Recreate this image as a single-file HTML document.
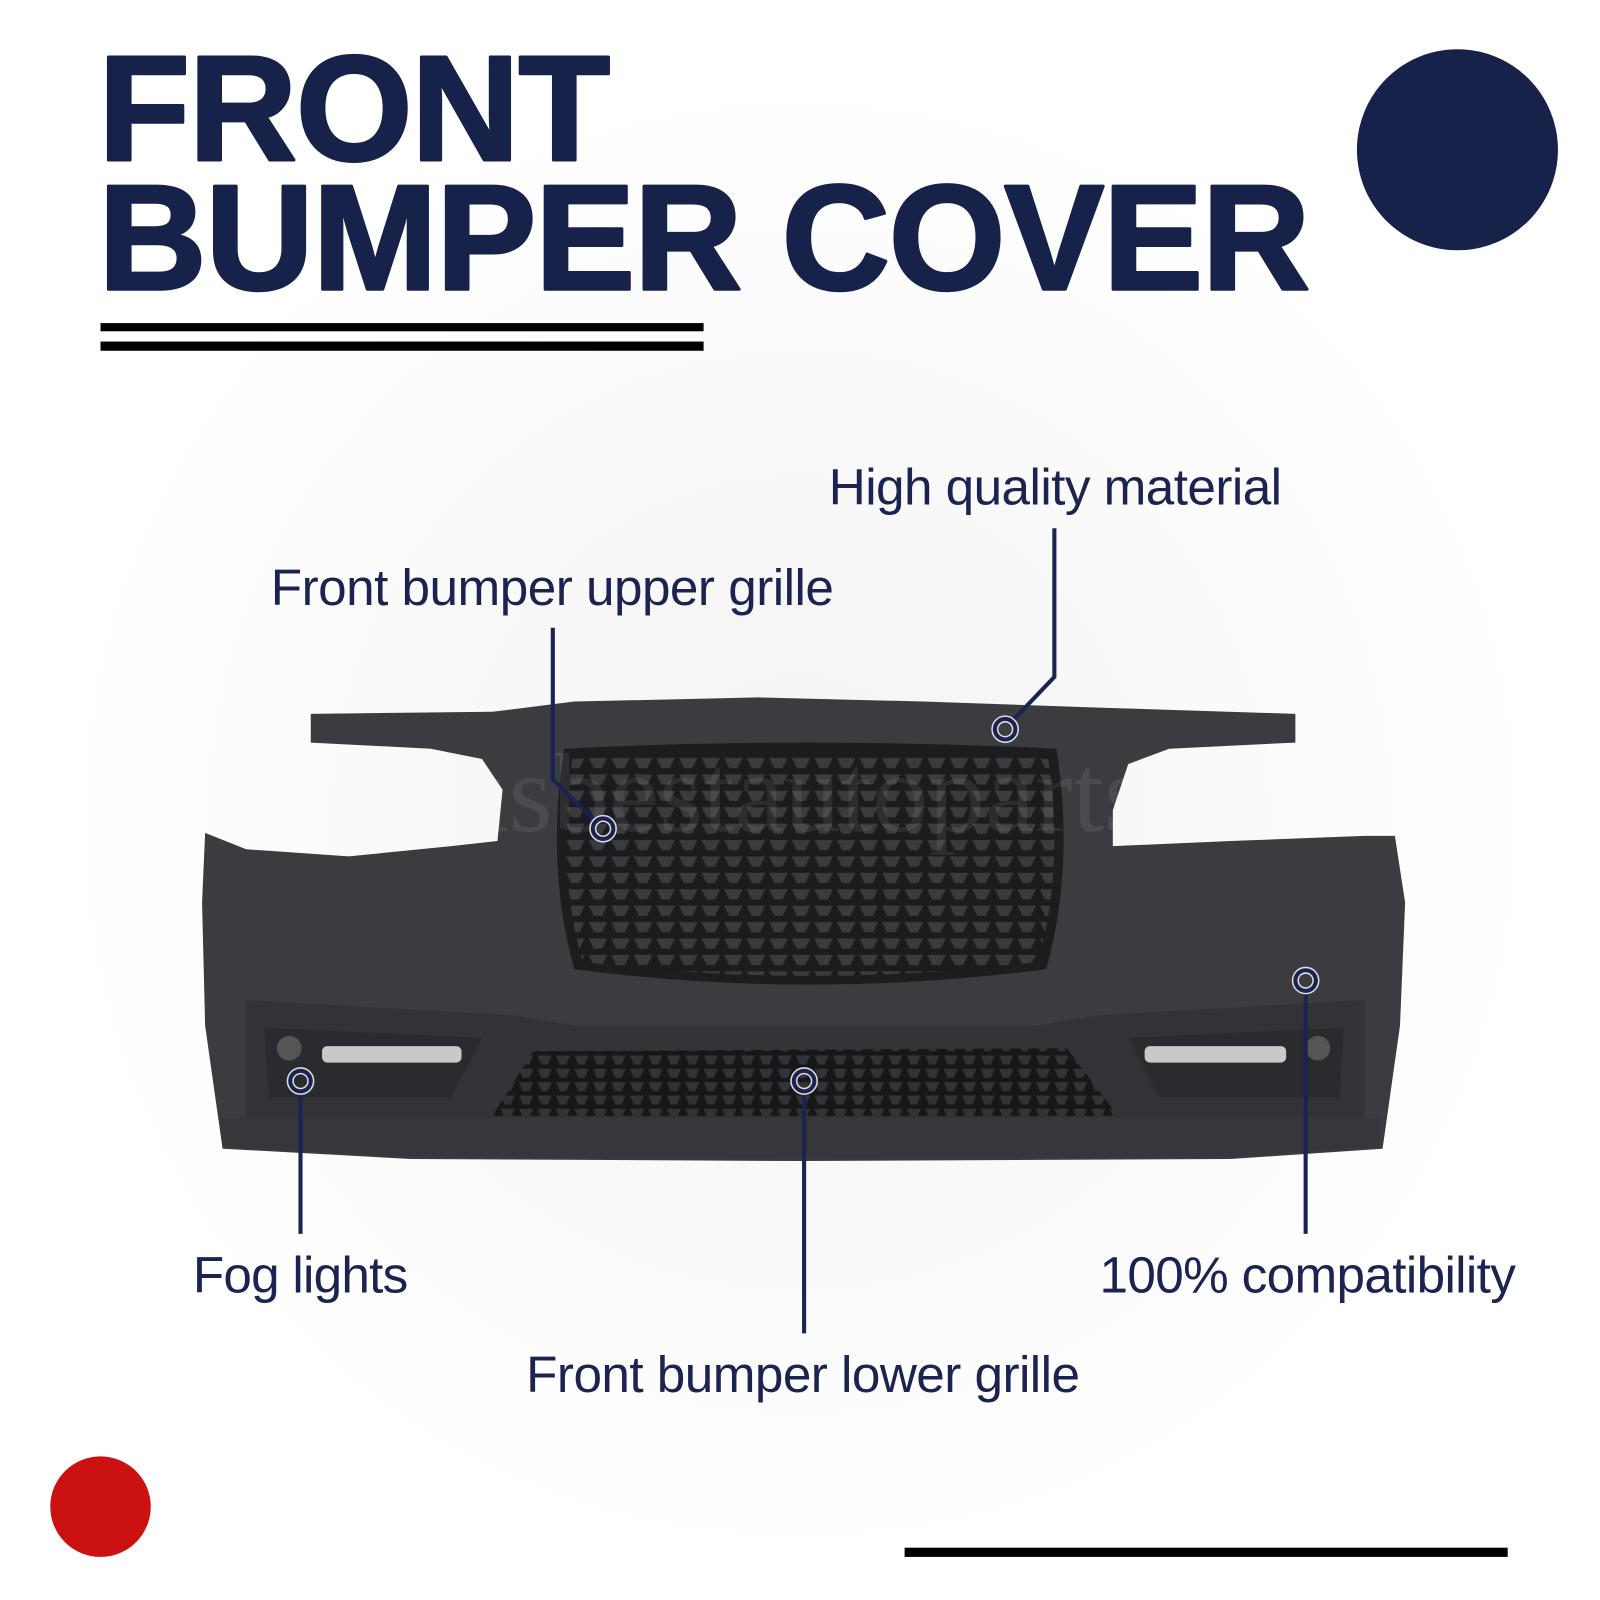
<!DOCTYPE html>
<html><head><meta charset="utf-8"><style>
html,body{margin:0;padding:0;background:#fff;}
svg{display:block}
</style></head><body>
<svg width="1600" height="1600" viewBox="0 0 1560 1560" xmlns="http://www.w3.org/2000/svg">
<defs>
<pattern id="g" width="22" height="16" patternUnits="userSpaceOnUse">
<rect width="22" height="16" fill="#1b1c1e"/>
<path d="M2,3 L20,3 L15,13 L7,13 Z" fill="#3a3b3e"/>
</pattern>
<pattern id="g2" width="18" height="13" patternUnits="userSpaceOnUse">
<rect width="18" height="13" fill="#161719"/>
<path d="M2,2 L16,2 L12,11 L6,11 Z" fill="#323336"/>
</pattern>
<radialGradient id="bg" cx="0.5" cy="0.5" r="0.5">
<stop offset="0" stop-color="#f3f3f3"/><stop offset="1" stop-color="#ffffff"/>
</radialGradient>
</defs>
<rect width="1560" height="1560" fill="#fff"/>
<circle cx="780" cy="800" r="720" fill="url(#bg)"/>
<g font-family="Liberation Sans, sans-serif" font-weight="bold" fill="#16224a" stroke="#16224a" stroke-width="3" stroke-linejoin="round">
<text x="96" y="156" font-size="146" letter-spacing="-1">FRONT</text>
<text x="96" y="282" font-size="146" letter-spacing="-1">BUMPER COVER</text>
</g>
<rect x="98" y="315" width="588" height="8" fill="#000"/>
<rect x="98" y="333" width="588" height="9" fill="#000"/>
<circle cx="1421" cy="146" r="98" fill="#16224a"/>
<circle cx="98" cy="1469" r="49" fill="#cc1111"/>
<rect x="882" y="1509" width="588" height="9" fill="#000"/>
<path d="M303,696 L480,694 L560,684 L740,680 L900,684 L1075,690 L1263,696 L1263,724 L1140,730 L1100,745 L1085,790 L1085,825 L1200,820 L1330,815 L1360,815 L1370,880 L1365,1000 L1348,1120 L1200,1130 L780,1132 L400,1130 L217,1120 L200,1000 L197,880 L200,812 L240,828 L340,835 L440,825 L485,820 L490,770 L470,740 L420,730 L303,724 Z" fill="#3b3c3f"/>
<path d="M240,975 L500,990 L560,1000 L1010,1000 L1070,990 L1330,975 L1330,1100 L240,1100 Z" fill="#323336"/>
<path d="M215,1090 L1345,1090 L1345,1118 L1200,1128 L780,1130 L400,1128 L217,1118 Z" fill="#36373a"/>
<path d="M550,730 Q790,718 1030,730 Q1048,845 1020,945 Q790,975 560,945 Q532,845 550,730 Z" fill="#1c1d1f"/>
<path d="M558,740 Q790,728 1022,740 Q1038,845 1012,938 Q790,965 568,938 Q542,845 558,740 Z" fill="url(#g)"/>
<path d="M480,1088 L520,1025 L1040,1022 L1090,1088 Z" fill="url(#g2)"/>
<path d="M258,1002 L470,1012 L440,1070 L262,1070 Z" fill="#2a2b2e"/>
<path d="M1310,1002 L1100,1012 L1130,1070 L1306,1070 Z" fill="#2a2b2e"/>
<rect x="314" y="1020" width="136" height="16" rx="5" fill="#c9c9c9"/>
<rect x="1116" y="1020" width="138" height="16" rx="5" fill="#c9c9c9"/>
<circle cx="282" cy="1022" r="12" fill="#555"/>
<circle cx="1285" cy="1022" r="12" fill="#555"/>
<text x="780" y="810" font-family="Liberation Serif, serif" font-size="110" fill="#ffffff" fill-opacity="0.08" text-anchor="middle">usbestautoparts</text>
<g stroke="#1b2350" stroke-width="4" fill="none">
<polyline points="539,612 539,760 580,800"/>
<polyline points="1028,515 1028,660 987,703"/>
<line x1="293" y1="1062" x2="293" y2="1203"/>
<line x1="784" y1="1062" x2="784" y2="1300"/>
<line x1="1273" y1="964" x2="1273" y2="1203"/>
</g>
<g stroke="#1b2350" stroke-width="4" fill="none">
<circle cx="588" cy="808" r="10" stroke="#ddd" stroke-width="7"/><circle cx="588" cy="808" r="10"/>
<circle cx="980" cy="711" r="10" stroke="#ddd" stroke-width="7"/><circle cx="980" cy="711" r="10"/>
<circle cx="293" cy="1054" r="10" stroke="#ddd" stroke-width="7"/><circle cx="293" cy="1054" r="10"/>
<circle cx="784" cy="1054" r="10" stroke="#ddd" stroke-width="7"/><circle cx="784" cy="1054" r="10"/>
<circle cx="1273" cy="956" r="10" stroke="#ddd" stroke-width="7"/><circle cx="1273" cy="956" r="10"/>
</g>
<g font-family="Liberation Sans, sans-serif" font-size="50" fill="#1b2350">
<text x="808" y="492" textLength="442">High quality material</text>
<text x="264" y="590" textLength="549">Front bumper upper grille</text>
<text x="188" y="1260" textLength="210">Fog lights</text>
<text x="1072" y="1260" textLength="406">100% compatibility</text>
<text x="513" y="1357" textLength="540">Front bumper lower grille</text>
</g>
</svg>
</body></html>
